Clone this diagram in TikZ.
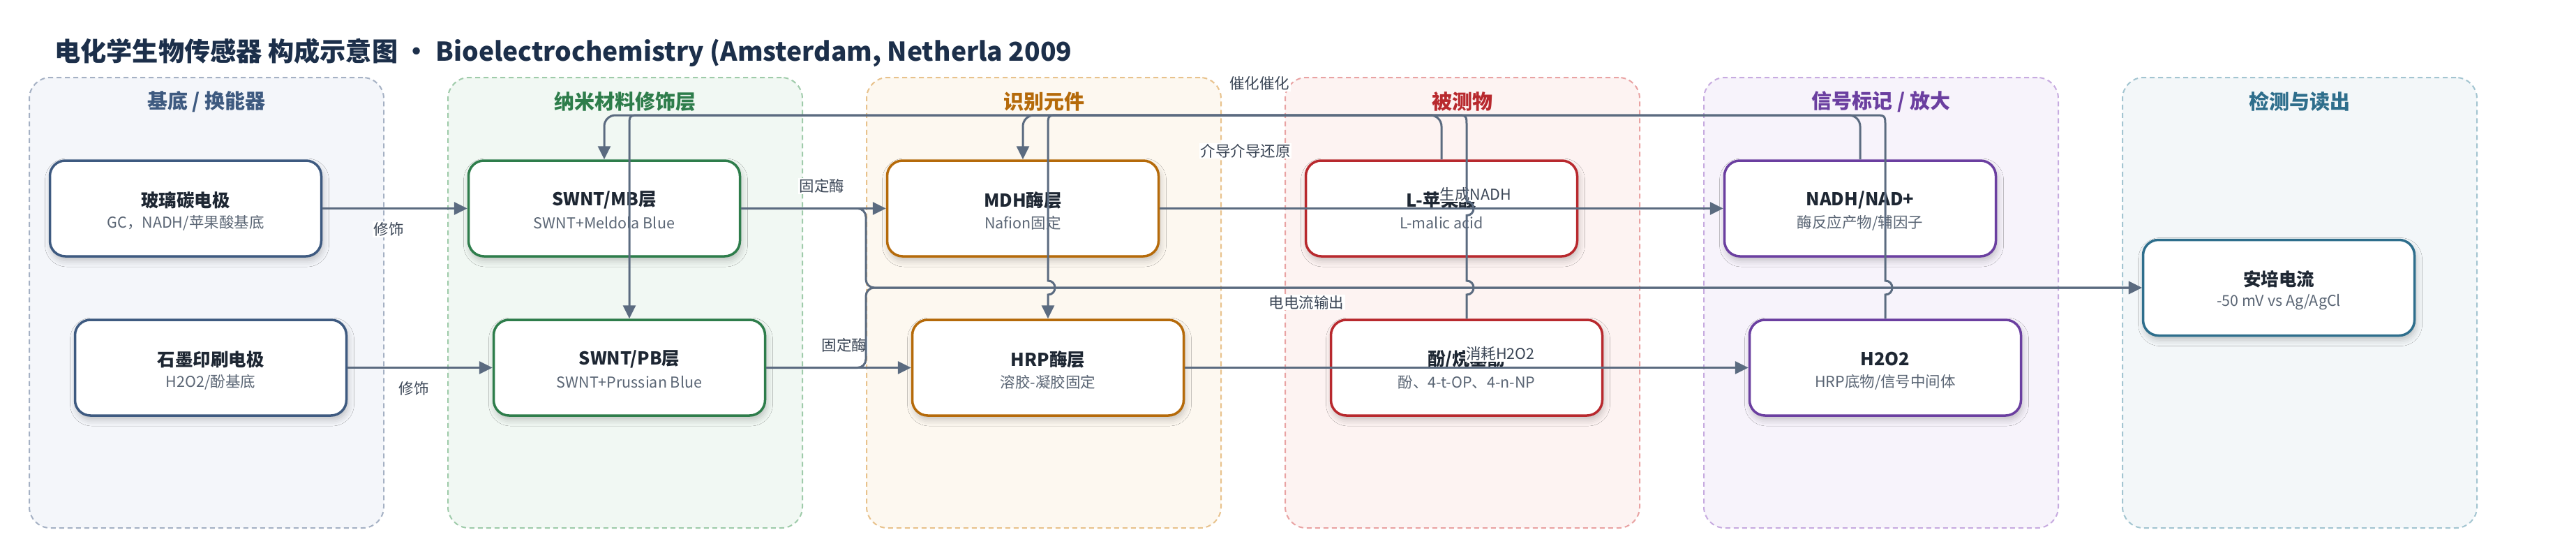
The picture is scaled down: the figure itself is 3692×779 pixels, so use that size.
\documentclass[tikz,border=0pt]{standalone}
\usepackage{fontspec}
\setmainfont{Noto Sans CJK SC}
\usetikzlibrary{arrows.meta,shadows.blur}
\definecolor{titlec}{HTML}{1C2F4A}
\definecolor{edgec}{HTML}{5B6B80}
\definecolor{labc}{HTML}{3B4656}
\definecolor{ntc}{HTML}{1E2733}
\definecolor{nsc}{HTML}{5B6675}
\definecolor{fA}{HTML}{F4F6FA}\definecolor{bA}{HTML}{A5B1C4}\definecolor{cA}{HTML}{3E5A80}
\definecolor{fB}{HTML}{F1F8F3}\definecolor{bB}{HTML}{9FCBAA}\definecolor{cB}{HTML}{2E7D4B}
\definecolor{fC}{HTML}{FDF8F0}\definecolor{bC}{HTML}{E8C28C}\definecolor{cC}{HTML}{B56A0A}
\definecolor{fD}{HTML}{FDF3F2}\definecolor{bD}{HTML}{E9A3A3}\definecolor{cD}{HTML}{B8292E}
\definecolor{fE}{HTML}{F7F3FB}\definecolor{bE}{HTML}{C7ABE0}\definecolor{cE}{HTML}{6B3FA0}
\definecolor{fF}{HTML}{F3F7F9}\definecolor{bF}{HTML}{A3C5D1}\definecolor{cF}{HTML}{2E6E8C}
\newcommand\mkbox[6]{%
  \node[box=#4] (#1) at (#2,#3) {};
  \node[btitle] (#1t) at ([yshift=12pt]#1.center) {#5};
  \node[bsub] (#1s) at ([yshift=-21pt]#1.center) {#6};
}
\newcommand\mkpanel[5]{%
  \node[panel, fill=#3, draw=#4] (#1) at (#2,433.5) {};
  \node[ptitle, text=#5] (#1t) at (#2,145.5) {\ptxt};
}
\begin{document}
\begin{tikzpicture}[x=1pt,y=-1pt,
  panel/.style={dash pattern=on 7pt off 5pt, line width=2pt, rounded corners=30pt,
    minimum width=508pt, minimum height=645pt, inner sep=0pt},
  ptitle/.style={font=\fontsize{29}{34}\selectfont\bfseries, inner sep=0pt},
  box/.style={draw=#1, fill=white, line width=3.5pt, rounded corners=22pt,
    minimum width=389pt, minimum height=137pt, inner sep=0pt,
    blur shadow={shadow xshift=2pt, shadow yshift=-6pt, shadow blur radius=9pt, shadow opacity=22}},
  btitle/.style={font=\fontsize{25.5}{30}\selectfont\bfseries, text=ntc, inner sep=0pt},
  bsub/.style={font=\fontsize{21.5}{26}\selectfont, text=nsc, inner sep=0pt},
  lab/.style={font=\fontsize{21.5}{26}\selectfont, text=labc, fill=white, inner sep=1.5pt},
  edge/.style={draw=edgec, line width=3pt, -{Triangle[length=19pt,width=18pt]}},
]
\fill[white] (0,0) rectangle (3692,779);
\useasboundingbox (0,0) rectangle (3692,779);

\node[anchor=west, font=\fontsize{37.2}{44}\selectfont\bfseries, text=titlec, inner sep=0pt] (title) at (78,76)
  {电化学生物传感器 构成示意图 · Bioelectrochemistry (Amsterdam, Netherla 2009};

\def\ptxt{基底 / 换能器}\mkpanel{p1}{296}{fA}{bA}{cA}
\def\ptxt{纳米材料修饰层}\mkpanel{p2}{896}{fB}{bB}{cB}
\def\ptxt{识别元件}\mkpanel{p3}{1496}{fC}{bC}{cC}
\def\ptxt{被测物}\mkpanel{p4}{2096}{fD}{bD}{cD}
\def\ptxt{信号标记 / 放大}\mkpanel{p5}{2696}{fE}{bE}{cE}
\def\ptxt{检测与读出}\mkpanel{p6}{3296}{fF}{bF}{cF}

\mkbox{gc}{266}{298.5}{cA}{玻璃碳电极}{GC，NADH/苹果酸基底}
\mkbox{spe}{302}{526.5}{cA}{石墨印刷电极}{H2O2/酚基底}
\mkbox{mb}{866}{298.5}{cB}{SWNT/MB层}{SWNT+Meldola Blue}
\mkbox{pb}{902}{526.5}{cB}{SWNT/PB层}{SWNT+Prussian Blue}
\mkbox{mdh}{1466}{298.5}{cC}{MDH酶层}{Nafion固定}
\mkbox{hrp}{1502}{526.5}{cC}{HRP酶层}{溶胶-凝胶固定}
\mkbox{mal}{2066}{298.5}{cD}{L-苹果酸}{L-malic acid}
\mkbox{phe}{2102}{526.5}{cD}{酚/烷基酚}{酚、4-t-OP、4-n-NP}
\mkbox{nadh}{2666}{298.5}{cE}{NADH/NAD+}{酶反应产物/辅因子}
\mkbox{hoo}{2702}{526.5}{cE}{H2O2}{HRP底物/信号中间体}
\mkbox{amp}{3266}{412}{cF}{安培电流}{-50 mV vs Ag/AgCl}

\node[lab] (l1) at (557,328.5) {修饰};
\node[lab] (l2) at (593,556.6) {修饰};
\node[lab] (l3) at (1178,266.7) {固定酶};
\node[lab] (l4) at (1210,494) {固定酶};
\node[lab] (l5) at (1805,119.5) {催化催化};
\node[lab] (l6) at (1785,216) {介导介导还原};
\node[lab] (l7) at (1872.5,433) {电电流输出};
\node[lab] (l8) at (2115,278) {生成NADH};
\node[lab] (l9) at (2150.5,506.7) {消耗H2O2};

\coordinate (jx) at (1241,412);
\coordinate (tl) at (0,165);

\draw[edge] (gc.east) -- (mb.west);
\draw[edge] (spe.east) -- (pb.west);
\draw[edge] (mb.east) -- (mdh.west);
\draw[edge] (pb.east) -- (hrp.west);
\draw[edge, rounded corners=12pt] (mb.east) -| (jx) -- (amp.west);
\draw[edge, rounded corners=12pt] (pb.east) -| (jx) -- (amp.west);
\draw[edge] (mdh.east) -- (nadh.west);
\draw[edge] (hrp.east) -- (hoo.west);
\draw[edge, rounded corners=16pt] (nadh.north) -- (nadh.north |- tl) -| (mb.north);
\draw[edge, rounded corners=16pt] (mal.north) -- (mal.north |- tl) -| (mdh.north);
\draw[edge] (hoo.north) -- (2702,422) .. controls (2715.3,422) and (2715.3,402) .. (2702,402)
  -- (2702,181) .. controls (2702,165) .. (2686,165) -- (918,165) .. controls (902,165) .. (902,181)
  -- (pb.north);
\draw[edge] (phe.north) -- (2102,422) .. controls (2115.3,422) and (2115.3,402) .. (2102,402)
  -- (2102,308.5) .. controls (2115.3,308.5) and (2115.3,288.5) .. (2102,288.5)
  -- (2102,181) .. controls (2102,165) .. (2086,165) -- (1518,165) .. controls (1502,165) .. (1502,181)
  -- (1502,402) .. controls (1515.3,402) and (1515.3,422) .. (1502,422) -- (hrp.north);
\end{tikzpicture}
\end{document}
